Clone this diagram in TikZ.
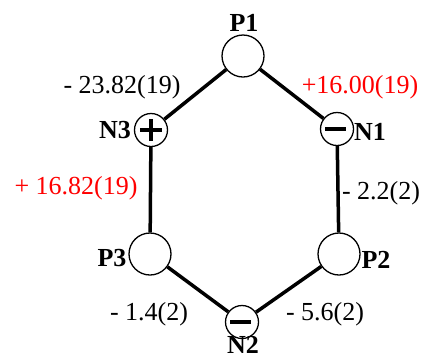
\documentclass[tikz,border=0pt]{standalone}
\usepackage{fontspec}
\setmainfont{Liberation Serif}
\usepackage{tikz}

\begin{document}
\begin{tikzpicture}[
  x=1pt, y=-1pt,
  font=\fontsize{26}{30}\selectfont,
  patom/.style={circle, draw, line width=1.3pt, minimum size=42pt, inner sep=0pt},
  natom/.style={circle, draw, line width=1.3pt, minimum size=33pt, inner sep=0pt,
    path picture={\draw[line width=4pt] ([xshift=-12pt]path picture bounding box.center) -- ([xshift=9pt]path picture bounding box.center);}},
  platom/.style={circle, draw, line width=1.3pt, minimum size=33pt, inner sep=0pt,
    path picture={\draw[line width=3.6pt] ([xshift=-11pt]path picture bounding box.center) -- ([xshift=11pt]path picture bounding box.center)
      ([yshift=-11pt]path picture bounding box.center) -- ([yshift=11pt]path picture bounding box.center);}},
  bond/.style={line width=3.5pt},
  lbl/.style={font=\fontsize{26}{30}\selectfont\bfseries, inner sep=0pt},
  val/.style={inner sep=0pt},
]
\useasboundingbox (0,0) rectangle (425,360);

% ring atoms
\node[patom]  (P1) at (243,56)  {};
\node[natom]  (N1) at (337,129) {};
\node[patom]  (P2) at (339,254) {};
\node[natom]  (N2) at (242,322) {};
\node[patom]  (P3) at (150,254) {};
\node[platom] (N3) at (151,130) {};

% bonds
\draw[bond] (P1) -- (N1);
\draw[bond] (N1) -- (P2);
\draw[bond] (P2) -- (N2);
\draw[bond] (N2) -- (P3);
\draw[bond] (P3) -- (N3);
\draw[bond] (N3) -- (P1);

% atom names
\node[lbl] (tP1) at (244,23)  {P1};
\node[lbl] (tN1) at (370,132) {N1};
\node[lbl] (tP2) at (376,260) {P2};
\node[lbl] (tN2) at (243,345) {N2};
\node[lbl] (tP3) at (112,258) {P3};
\node[lbl] (tN3) at (115,130) {N3};

% bond values
\node[val] (v1) at (122,87)  {- 23.82(19)};
\node[val, red] (v2) at (360,87)  {+16.00(19)};
\node[val] (v3) at (381,193) {- 2.2(2)};
\node[val] (v4) at (325,314) {- 5.6(2)};
\node[val] (v5) at (149,314) {- 1.4(2)};
\node[val, red] (v6) at (76,188)  {+ 16.82(19)};

\end{tikzpicture}
\end{document}
